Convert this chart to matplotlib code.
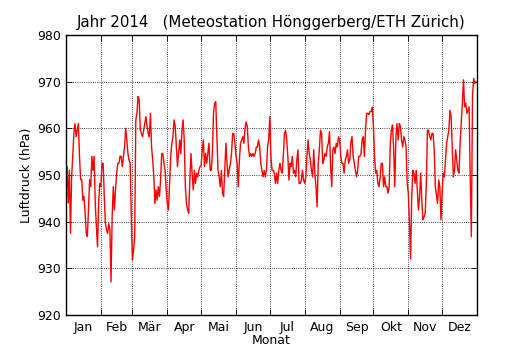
import numpy as np
import matplotlib
matplotlib.use("Agg")
import matplotlib.pyplot as plt

# Luftdruck 2014, ein Wert pro Tag (hPa)
jan = [947.5, 951.8, 944.0, 951.0, 937.5, 949.6, 954.0, 958.9, 961.0, 958.2,
       959.6, 961.0, 954.0, 949.0, 949.0, 944.6, 945.4, 941.8, 937.5, 936.8,
       943.2, 949.0, 947.5, 954.0, 951.0, 954.0, 943.9, 938.9, 934.6, 943.9,
       948.2]
feb = [947.5, 952.5, 952.5, 945.4, 939.6, 938.2, 937.5, 939.6, 938.2, 927.1,
       941.0, 947.5, 942.5, 946.8, 950.4, 952.5, 952.5, 954.0, 954.0, 951.8,
       954.0, 956.0, 960.0, 957.5, 954.6, 953.2, 952.5, 941.0]
mar = [931.8, 933.9, 936.8, 961.8, 963.2, 966.8, 966.1, 959.6, 958.9, 958.2,
       959.6, 961.0, 962.5, 960.4, 958.9, 958.2, 963.2, 956.0, 953.2, 949.6,
       943.9, 946.8, 944.6, 947.5, 945.4, 948.9, 954.6, 954.6, 952.5, 951.0,
       946.8]
apr = [943.9, 942.5, 948.2, 954.0, 956.8, 958.2, 961.8, 960.4, 956.0, 951.8,
       954.6, 957.5, 954.6, 959.6, 961.8, 957.5, 947.5, 943.9, 942.5, 941.8,
       948.9, 954.6, 950.4, 946.8, 951.0, 948.2, 950.4, 949.6, 951.0, 951.8]
may = [952.0, 955.4, 957.5, 951.8, 954.6, 952.5, 954.6, 956.8, 951.0, 951.0,
       954.6, 963.2, 965.4, 965.7, 958.2, 951.0, 949.6, 947.5, 951.0, 946.1,
       945.4, 951.0, 956.8, 952.5, 949.6, 951.0, 952.5, 954.6, 958.9, 958.9,
       956.8]
jun = [954.0, 952.5, 947.5, 953.2, 956.8, 957.5, 958.2, 956.8, 960.0, 961.4,
       960.4, 956.0, 954.0, 954.6, 954.0, 954.6, 954.0, 954.6, 956.0, 956.0,
       957.5, 956.0, 952.5, 951.0, 949.6, 951.0, 949.6, 951.0, 956.0, 957.5]
jul = [962.5, 954.0, 951.0, 951.0, 950.4, 948.2, 950.4, 948.2, 951.0, 952.5,
       951.0, 950.4, 954.0, 958.9, 959.6, 957.5, 954.0, 948.9, 952.5, 951.8,
       954.0, 950.4, 951.0, 949.6, 953.2, 955.4, 948.2, 948.2, 948.9, 951.0,
       948.9]
aug = [948.2, 949.6, 954.0, 957.5, 954.6, 953.2, 951.0, 949.6, 955.4, 950.4,
       947.5, 943.2, 952.5, 955.4, 959.6, 958.9, 952.5, 953.2, 954.6, 954.0,
       956.0, 956.8, 959.3, 951.8, 947.5, 955.4, 956.0, 954.6, 956.8, 956.0,
       958.2]
sep = [957.5, 954.0, 952.5, 952.5, 950.4, 953.2, 954.0, 955.4, 952.5, 953.2,
       957.1, 958.2, 954.0, 952.5, 951.0, 949.6, 951.0, 954.0, 954.0, 954.6,
       957.5, 958.2, 954.0, 959.6, 963.2, 963.2, 962.9, 963.6, 963.6, 964.5]
okt = [960.4, 954.0, 950.4, 951.0, 948.2, 947.5, 949.6, 952.5, 952.5, 947.5,
       949.6, 947.5, 947.5, 946.1, 947.5, 956.8, 959.6, 960.7, 955.4, 947.5,
       958.2, 961.0, 957.5, 961.0, 960.4, 957.5, 956.0, 958.2, 957.5, 956.0,
       948.2]
nov = [946.0, 940.0, 932.0, 945.0, 951.0, 950.4, 948.2, 951.0, 946.8, 942.5,
       945.4, 950.4, 944.6, 940.4, 941.0, 941.8, 948.2, 959.6, 959.6, 958.2,
       957.5, 958.9, 958.9, 955.4, 947.5, 945.7, 943.9, 948.9, 947.5, 940.4]
dez = [946.1, 950.4, 949.6, 953.2, 956.8, 958.2, 959.6, 963.9, 962.5, 956.0,
       949.6, 951.0, 955.4, 953.2, 951.0, 950.4, 956.8, 961.0, 965.4, 970.4,
       964.6, 965.4, 963.2, 963.9, 964.6, 948.9, 936.8, 966.8, 970.7, 969.6,
       970.0]

monate = ["Jan", "Feb", "Mär", "Apr", "Mai", "Jun",
          "Jul", "Aug", "Sep", "Okt", "Nov", "Dez"]
tage_pro_monat = [31, 28, 31, 30, 31, 30, 31, 31, 30, 31, 30, 31]

druck = np.concatenate([jan, feb, mar, apr, may, jun, jul, aug, sep, okt, nov, dez])
tag = np.arange(len(druck))

plt.rcParams['font.family'] = 'DejaVu Sans'
fig = plt.figure(figsize=(5.3, 3.5), dpi=100)
ax = fig.add_axes([0.1245, 0.1, 0.7755, 0.8])

ax.plot(tag, druck, color='red', lw=1.0)

ax.set_xlim(0, 365)
ax.set_ylim(920, 980)

grenzen = np.cumsum([0] + tage_pro_monat)
mitten = grenzen[:-1] + np.array(tage_pro_monat) / 2
ax.set_xticks(grenzen)
ax.set_xticklabels([])
ax.set_xticks(mitten, minor=True)
ax.set_xticklabels(monate, minor=True)
ax.set_yticks(np.arange(920, 981, 10))

ax.tick_params(which='major', direction='in', length=4, width=0.6,
               top=True, right=True, labelsize=9)
ax.tick_params(which='minor', length=0, labelsize=9, pad=4)
ax.grid(True, which='major', color='black', linestyle=':', linewidth=0.6)
for s in ax.spines.values():
    s.set_linewidth(1.0)

ax.set_xlabel("Monat", fontsize=9, labelpad=0)
ax.set_ylabel("Luftdruck (hPa)", fontsize=9, labelpad=3)
ax.set_title("Jahr 2014   (Meteostation Hönggerberg/ETH Zürich)", fontsize=10.8)

fig.savefig("out.png", dpi=100)
